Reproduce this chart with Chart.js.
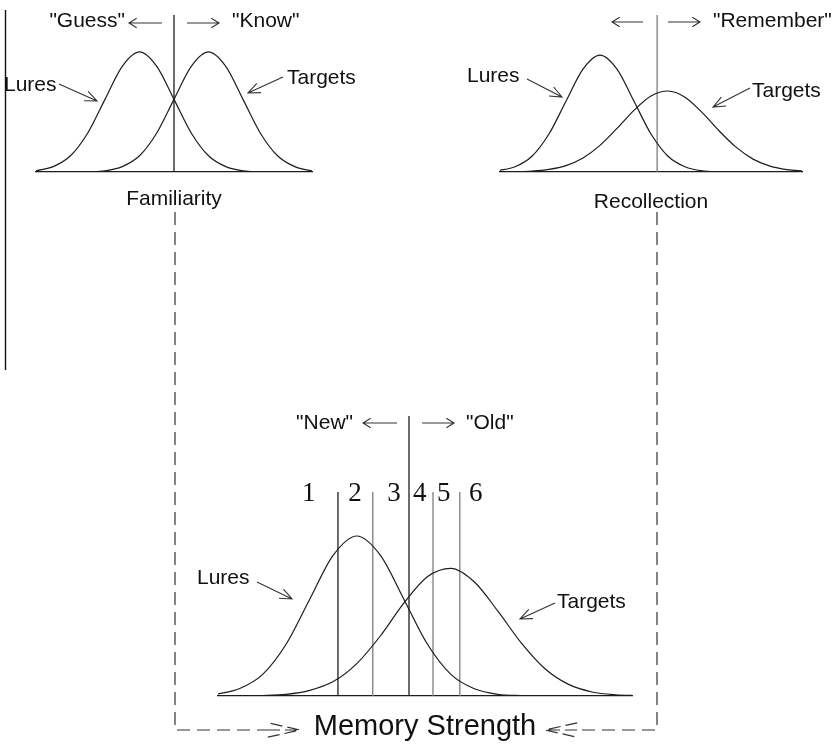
<!DOCTYPE html>
<html>
<head>
<meta charset="utf-8">
<script src="https://cdn.jsdelivr.net/npm/chart.js@4.4.1/dist/chart.umd.min.js"></script>
<style>
  html, body { margin: 0; padding: 0; background: #fff; }
  #wrap { position: relative; width: 835px; height: 744px; }
  #wrap canvas { position: absolute; left: 0; top: 0; }
</style>
</head>
<body>
<div id="wrap">
  <canvas id="strength" width="835" height="744"></canvas>
  <canvas id="familiarity" width="835" height="744"></canvas>
  <canvas id="recollection" width="835" height="744"></canvas>
</div>
<script>
Chart.defaults.font.family = '"Liberation Sans", Arial, Helvetica, sans-serif';
Chart.defaults.color = "#111";

const xSteps = [-3, -2.5, -2, -1.5, -1, -0.5, 0, 0.5, 1, 1.5, 2, 2.5, 3, 3.5, 4, 4.5, 5, 5.5, 6];

// Familiarity panel
const famLures = [0.004, 0.018, 0.054, 0.130, 0.242, 0.352, 0.400, 0.352, 0.242, 0.130, 0.054, 0.018, 0.004, 0.001, 0, 0, 0, 0, 0];
const famTargets = [0, 0, 0, 0.001, 0.004, 0.018, 0.054, 0.130, 0.242, 0.352, 0.400, 0.352, 0.242, 0.130, 0.054, 0.018, 0.004, 0.001, 0];
const famCriterion = 1.0;
const famRange = [-3, 5];
const famTop = 0.523;

// Recollection panel
const recLures = [0.004, 0.018, 0.054, 0.130, 0.242, 0.352, 0.400, 0.352, 0.242, 0.130, 0.054, 0.018, 0.004, 0.001, 0, 0, 0, 0, 0];
const recTargets = [0, 0.001, 0.003, 0.009, 0.022, 0.048, 0.091, 0.149, 0.211, 0.260, 0.277, 0.256, 0.204, 0.141, 0.085, 0.044, 0.020, 0.008, 0.003];
const recCriterion = 1.68;
const recRange = [-2.94, 5.94];
const recTop = 0.537;

// Memory strength panel (confidence ratings 1-6)
const strLures = [0.004, 0.018, 0.054, 0.130, 0.242, 0.352, 0.400, 0.352, 0.242, 0.130, 0.054, 0.018, 0.004, 0.001, 0, 0, 0, 0, 0];
const strTargets = [0, 0, 0.001, 0.004, 0.014, 0.036, 0.081, 0.150, 0.232, 0.298, 0.319, 0.285, 0.212, 0.132, 0.068, 0.029, 0.010, 0.003, 0.001];
const strCriteria = [-0.40, 0.34, 1.11, 1.62, 2.19];
const strCriterionTops = [0.51, 0.51, 0.70, 0.51, 0.51];
const strRange = [-2.95, 5.85];
const strTop = 0.70;
const ratingLabels = ["1", "2", "3", "4", "5", "6"];
const ratingLabelPos = [-1.02, -0.04, 0.79, 1.34, 1.85, 2.53];
const ratingLabelY = 0.505;

const INK = "#1c1c1c";
const GREY = "#7d7d7d";

const toPoints = (ys) => xSteps.map((x, i) => ({ x: x, y: ys[i] }));
const curve = (ys) => ({
  data: toPoints(ys),
  borderColor: INK,
  borderWidth: 1.2,
  pointRadius: 0,
  cubicInterpolationMode: "monotone",
  fill: false,
});
const vline = (x, top, color) => ({
  data: [{ x: x, y: 0 }, { x: x, y: top }],
  borderColor: color,
  borderWidth: 1.3,
  pointRadius: 0,
  fill: false,
});

function label(ctx, text, x, y, align, font) {
  ctx.font = font || '21px "Liberation Sans", Arial, sans-serif';
  ctx.fillStyle = "#111";
  ctx.textAlign = align || "left";
  ctx.textBaseline = "middle";
  ctx.fillText(text, x, y);
}

function arrow(ctx, x1, y1, x2, y2, head, spread, dash) {
  const ang = Math.atan2(y2 - y1, x2 - x1);
  ctx.setLineDash(dash || []);
  ctx.beginPath();
  ctx.moveTo(x1, y1);
  ctx.lineTo(x2, y2);
  ctx.moveTo(x2 - head * Math.cos(ang - spread), y2 - head * Math.sin(ang - spread));
  ctx.lineTo(x2, y2);
  ctx.lineTo(x2 - head * Math.cos(ang + spread), y2 - head * Math.sin(ang + spread));
  ctx.stroke();
  ctx.setLineDash([]);
}

// extra drawing for each panel, in page pixels
const decorations = {
  familiarity(chart, ctx) {
    ctx.strokeStyle = "#333";
    ctx.lineWidth = 1.1;
    label(ctx, '"Guess"', 125, 21, "right");
    arrow(ctx, 162, 23, 129, 23, 9, 0.55);
    arrow(ctx, 187, 23, 219, 23, 9, 0.55);
    label(ctx, '"Know"', 232, 21);
    label(ctx, "Lures", 4, 85);
    arrow(ctx, 59, 84, 97, 101, 13, 0.4);
    label(ctx, "Targets", 287, 78);
    arrow(ctx, 283, 77, 248, 93, 13, 0.4);
  },
  recollection(chart, ctx) {
    ctx.strokeStyle = "#333";
    ctx.lineWidth = 1.1;
    arrow(ctx, 643, 22, 612, 22, 9, 0.55);
    arrow(ctx, 668, 22, 700, 22, 9, 0.55);
    label(ctx, '"Remember"', 713, 21);
    label(ctx, "Lures", 467, 76);
    arrow(ctx, 527, 79, 562, 97, 13, 0.4);
    label(ctx, "Targets", 752, 91);
    arrow(ctx, 750, 88, 713, 107, 13, 0.4);
  },
  strength(chart, ctx) {
    const xs = chart.scales.x;
    const ys = chart.scales.y;
    ctx.strokeStyle = "#333";
    ctx.lineWidth = 1.1;
    label(ctx, '"New"', 353, 423, "right");
    arrow(ctx, 397, 423, 363, 423, 9, 0.55);
    arrow(ctx, 422, 423, 454, 423, 9, 0.55);
    label(ctx, '"Old"', 466, 423);
    ratingLabels.forEach((t, i) => {
      label(ctx, t, xs.getPixelForValue(ratingLabelPos[i]), ys.getPixelForValue(ratingLabelY), "center",
        '27px "Liberation Serif", "Times New Roman", serif');
    });
    label(ctx, "Lures", 197, 578);
    arrow(ctx, 257, 582, 292, 599, 13, 0.4);
    label(ctx, "Targets", 557, 602);
    arrow(ctx, 555, 603, 520, 619, 13, 0.4);

    // left frame line
    ctx.strokeStyle = "#111";
    ctx.lineWidth = 1.4;
    ctx.beginPath();
    ctx.moveTo(5.5, 10);
    ctx.lineTo(5.5, 370);
    ctx.stroke();

    // dashed connectors into "Memory Strength"
    const dash = [13, 7];
    ctx.strokeStyle = "#333";
    ctx.lineWidth = 1.2;
    ctx.setLineDash(dash);
    ctx.beginPath();
    ctx.moveTo(175, 212);
    ctx.lineTo(175, 730);
    ctx.lineTo(268, 730);
    ctx.moveTo(657, 212);
    ctx.lineTo(657, 730);
    ctx.lineTo(577, 730);
    ctx.stroke();
    arrow(ctx, 268, 730, 300, 730, 33, 0.22, [12, 5]);
    arrow(ctx, 577, 730, 545, 730, 33, 0.22, [12, 5]);
  },
};

const notes = {
  id: "notes",
  afterDraw(chart) {
    const draw = decorations[chart.canvas.id];
    if (!draw) return;
    const ctx = chart.ctx;
    ctx.save();
    draw(chart, ctx);
    ctx.restore();
  },
};

const panel = (id, o) =>
  new Chart(document.getElementById(id), {
    type: "line",
    data: { datasets: o.datasets },
    options: {
      responsive: false,
      animation: false,
      events: [],
      layout: { padding: o.padding },
      plugins: { legend: { display: false }, tooltip: { enabled: false } },
      scales: {
        x: {
          type: "linear",
          min: o.range[0],
          max: o.range[1],
          ticks: { display: false },
          grid: { display: false, drawTicks: false },
          border: { display: true, color: INK, width: 1.2 },
          title: {
            display: true,
            text: o.title,
            color: "#111",
            font: { size: o.titleSize },
            padding: { top: 0, bottom: o.titlePad },
          },
          afterFit: (s) => { s.height = o.axisHeight; },
        },
        y: { display: false, min: 0, max: o.top },
      },
    },
    plugins: [notes],
  });

panel("strength", {
  datasets: [
    curve(strLures),
    curve(strTargets),
    ...strCriteria.map((c, i) => vline(c, strCriterionTops[i], i === 0 || i === 2 ? INK : GREY)),
  ],
  range: strRange,
  top: strTop,
  padding: { left: 218, right: 203, top: 416, bottom: 0 },
  axisHeight: 48,
  title: "Memory Strength",
  titleSize: 29,
  titlePad: 0,
});

panel("familiarity", {
  datasets: [curve(famLures), curve(famTargets), vline(famCriterion, famTop, INK)],
  range: famRange,
  top: famTop,
  padding: { left: 36, right: 523, top: 15, bottom: 519 },
  axisHeight: 53,
  title: "Familiarity",
  titleSize: 21,
  titlePad: 13,
});

panel("recollection", {
  datasets: [curve(recLures), curve(recTargets), vline(recCriterion, recTop, GREY)],
  range: recRange,
  top: recTop,
  padding: { left: 500, right: 33, top: 15, bottom: 519 },
  axisHeight: 53,
  title: "Recollection",
  titleSize: 21,
  titlePad: 10,
});
</script>
</body>
</html>
